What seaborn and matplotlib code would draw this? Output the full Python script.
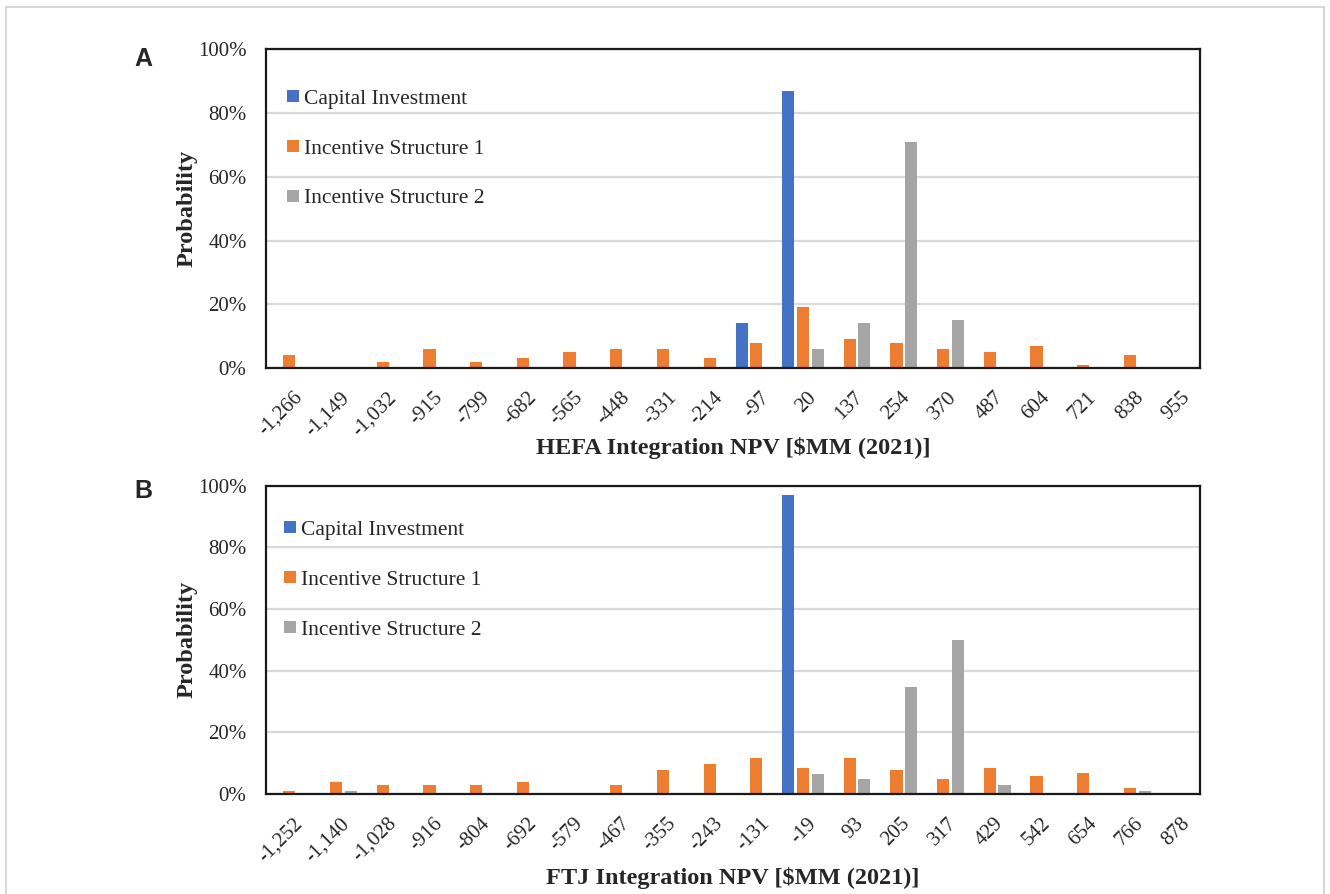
import matplotlib
matplotlib.use("Agg")
import matplotlib.pyplot as plt
import matplotlib.transforms as mtransforms
from matplotlib.lines import Line2D
import numpy as np
import pandas as pd
import seaborn as sns

# ---------------- data ----------------
series_names = ["Capital Investment", "Incentive Structure 1", "Incentive Structure 2"]
series_colors = ["#4472C4", "#ED7D31", "#A5A5A5"]

hefa_bins = ["-1,266", "-1,149", "-1,032", "-915", "-799", "-682", "-565", "-448", "-331",
             "-214", "-97", "20", "137", "254", "370", "487", "604", "721", "838", "955"]
hefa_capital = [0, 0, 0, 0, 0, 0, 0, 0, 0, 0, 14, 87, 0, 0, 0, 0, 0, 0, 0, 0]
hefa_inc1 = [4, 0, 2, 6, 2, 3, 5, 6, 6, 3, 8, 19, 9, 8, 6, 5, 7, 1, 4, 0]
hefa_inc2 = [0, 0, 0, 0, 0, 0, 0, 0, 0, 0, 0, 6, 14, 71, 15, 0, 0, 0, 0, 0]

ftj_bins = ["-1,252", "-1,140", "-1,028", "-916", "-804", "-692", "-579", "-467", "-355",
            "-243", "-131", "-19", "93", "205", "317", "429", "542", "654", "766", "878"]
ftj_capital = [0, 0, 0, 0, 0, 0, 0, 0, 0, 0, 0, 97, 0, 0, 0, 0, 0, 0, 0, 0]
ftj_inc1 = [1, 4, 3, 3, 3, 4, 0, 3, 7.7, 9.7, 11.6, 8.5, 11.6, 7.7, 4.8, 8.5, 5.7, 6.7, 1.8, 0]
ftj_inc2 = [0, 1, 0, 0, 0, 0, 0, 0, 0, 0, 0, 6.6, 4.8, 34.7, 50, 2.9, 0, 0, 1, 0]

y_ticks = [0, 20, 40, 60, 80, 100]
y_tick_labels = ["0%", "20%", "40%", "60%", "80%", "100%"]


def long_frame(bins, cap, inc1, inc2):
    rows = []
    for vals, name in zip([cap, inc1, inc2], series_names):
        for b, v in zip(bins, vals):
            rows.append({"bin": b, "series": name, "value": v})
    return pd.DataFrame(rows)


# ---------------- style ----------------
sns.set_theme(style="white")
plt.rcParams["font.family"] = ["Liberation Serif", "DejaVu Serif"]
plt.rcParams["axes.unicode_minus"] = False

W, H = 1330, 894
fig = plt.figure(figsize=(W / 100, H / 100), dpi=100)


def px_axes(left, top, right, bottom):
    return fig.add_axes([left / W, 1 - bottom / H, (right - left) / W, (bottom - top) / H])


panels = [
    dict(ax=px_axes(266, 49.3, 1200, 368), bins=hefa_bins,
         data=(hefa_capital, hefa_inc1, hefa_inc2),
         xlabel="HEFA Integration NPV [$MM (2021)]", letter="A", letter_y=59,
         leg_anchor=(0.0212, 0.876), xlab_y=-0.251),
    dict(ax=px_axes(266, 485.7, 1200, 794), bins=ftj_bins,
         data=(ftj_capital, ftj_inc1, ftj_inc2),
         xlabel="FTJ Integration NPV [$MM (2021)]", letter="B", letter_y=491,
         leg_anchor=(0.0176, 0.889), xlab_y=-0.2725),
]

for p in panels:
    ax = p["ax"]
    df = long_frame(p["bins"], *p["data"])
    sns.barplot(data=df, x="bin", y="value", hue="series", order=p["bins"],
                hue_order=series_names, palette=series_colors, saturation=1,
                width=0.94, gap=0.17, linewidth=0, errorbar=None, ax=ax, legend=False)
    ax.set_ylim(0, 100)
    ax.set_xlim(-0.5, len(p["bins"]) - 0.5)
    ax.set_yticks(y_ticks)
    ax.set_yticklabels(y_tick_labels, fontsize=15)
    ax.yaxis.grid(True, color="#d9d9d9", linewidth=1.6)
    ax.xaxis.grid(False)
    ax.set_axisbelow(True)
    ax.tick_params(axis="both", length=0)
    ax.tick_params(axis="y", pad=14)
    ax.tick_params(axis="x", pad=14.5)
    ax.set_xticks(range(len(p["bins"])))
    ax.set_xticklabels(p["bins"], rotation=45, ha="right", va="top",
                       rotation_mode="anchor", fontsize=15)
    shift = mtransforms.ScaledTranslation(4 / 100, 0, fig.dpi_scale_trans)
    for lab in ax.get_xticklabels():
        lab.set_transform(lab.get_transform() + shift)
    for s in ax.spines.values():
        s.set_visible(True)
        s.set_color("#1a1a1a")
        s.set_linewidth(1.6)
    ax.set_xlabel(p["xlabel"], fontsize=17.5, fontweight="bold")
    ax.xaxis.label.set_va("center")
    ax.xaxis.set_label_coords(0.5, p["xlab_y"])
    ax.set_ylabel("Probability", fontsize=17.5, fontweight="bold")
    ax.yaxis.label.set_va("center")
    ax.yaxis.set_label_coords(-0.0846, 0.5)

    handles = [Line2D([0], [0], marker="s", linestyle="none", markersize=8,
                      markerfacecolor=c, markeredgewidth=0) for c in series_colors]
    ax.legend(handles, series_names, loc="upper left", bbox_to_anchor=p["leg_anchor"],
              frameon=False, fontsize=15.5, labelspacing=1.38, handlelength=0.7,
              handletextpad=0.15, borderpad=0, borderaxespad=0)

    fig.text(143 / W, 1 - p["letter_y"] / H, p["letter"], fontsize=18, fontweight="bold",
             family=["Liberation Sans", "DejaVu Sans"], ha="center", va="center")

# light frame around the figure
for xs, ys in [([6, 6], [7, H]), ([6, 1324], [7, 7]), ([1324, 1324], [7, H])]:
    fig.add_artist(Line2D([x / W for x in xs], [1 - y / H for y in ys], color="#cfcfcf",
                          linewidth=1.2, transform=fig.transFigure))

fig.savefig("out.png", dpi=100)
